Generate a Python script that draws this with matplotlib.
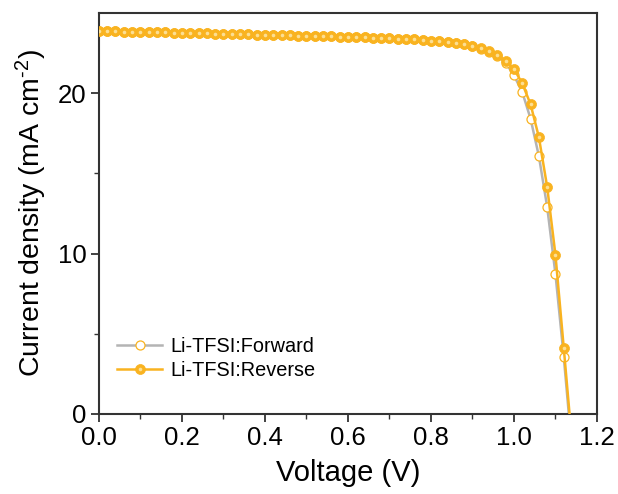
import matplotlib
matplotlib.use("Agg")
import matplotlib.pyplot as plt
from matplotlib.legend_handler import HandlerTuple

plt.rcParams['font.family'] = ['Liberation Sans', 'DejaVu Sans']
plt.rcParams['mathtext.fontset'] = 'custom'
plt.rcParams['mathtext.rm'] = 'Liberation Sans'
plt.rcParams['mathtext.it'] = 'Liberation Sans:italic'

# J-V sweep data (V, mA cm^-2)
voltage = [0.00, 0.02, 0.04, 0.06, 0.08, 0.10, 0.12, 0.14, 0.16, 0.18,
           0.20, 0.22, 0.24, 0.26, 0.28, 0.30, 0.32, 0.34, 0.36, 0.38,
           0.40, 0.42, 0.44, 0.46, 0.48, 0.50, 0.52, 0.54, 0.56, 0.58,
           0.60, 0.62, 0.64, 0.66, 0.68, 0.70, 0.72, 0.74, 0.76, 0.78,
           0.80, 0.82, 0.84, 0.86, 0.88, 0.90, 0.92, 0.94, 0.96, 0.98,
           1.00, 1.02, 1.04, 1.06, 1.08, 1.10, 1.12, 1.14]
j_reverse = [23.86, 23.85, 23.84, 23.83, 23.82, 23.81, 23.80, 23.79, 23.78, 23.77,
             23.76, 23.75, 23.74, 23.72, 23.71, 23.70, 23.69, 23.68, 23.66, 23.65,
             23.64, 23.62, 23.61, 23.60, 23.58, 23.57, 23.56, 23.54, 23.53, 23.51,
             23.50, 23.48, 23.47, 23.45, 23.43, 23.41, 23.39, 23.37, 23.34, 23.31,
             23.27, 23.23, 23.18, 23.12, 23.04, 22.95, 22.82, 22.65, 22.38, 22.00,
             21.50, 20.60, 19.30, 17.25, 14.15, 9.90, 4.10, -1.80]
j_forward = [23.86, 23.85, 23.84, 23.83, 23.82, 23.81, 23.80, 23.79, 23.78, 23.77,
             23.76, 23.75, 23.74, 23.72, 23.71, 23.70, 23.69, 23.68, 23.66, 23.65,
             23.64, 23.62, 23.61, 23.60, 23.58, 23.57, 23.56, 23.54, 23.53, 23.51,
             23.50, 23.48, 23.47, 23.45, 23.43, 23.41, 23.39, 23.37, 23.34, 23.31,
             23.27, 23.23, 23.18, 23.12, 23.03, 22.92, 22.76, 22.55, 22.30, 21.90,
             21.10, 20.06, 18.40, 16.07, 12.90, 8.70, 3.55, -2.30]

orange = '#F9B320'
gray = '#B4B4B4'

fig = plt.figure(figsize=(6.18, 4.94), dpi=100)
ax = fig.add_axes([0.160, 0.162, 0.806, 0.812])

fwd, = ax.plot(voltage, j_forward, color=gray, lw=1.8, marker='o', ms=6.5,
               mfc='white', mec=orange, mew=0.9, zorder=2)
rev, = ax.plot(voltage, j_reverse, color=orange, lw=1.8, marker='o', ms=7.2,
               mfc=orange, mec=orange, mew=0.5, zorder=3)
# glossy highlight on filled markers
hl, = ax.plot(voltage, j_reverse, ls='none', marker='o', ms=2.6,
              mfc='#FCDF94', mec='none', zorder=4)

ax.set_xlim(0, 1.2)
ax.set_ylim(0, 25)
ax.set_xticks([0.0, 0.2, 0.4, 0.6, 0.8, 1.0, 1.2])
ax.set_xticks([0.1, 0.3, 0.5, 0.7, 0.9, 1.1], minor=True)
ax.set_yticks([0, 10, 20])
ax.set_yticks([5, 15], minor=True)
ax.tick_params(which='major', direction='out', length=6, width=1.3,
               color='#333333', labelsize=18.5, pad=3)
ax.tick_params(which='minor', direction='out', length=3.5, width=1.0, color='#333333')
for s in ax.spines.values():
    s.set_color('#333333')
    s.set_linewidth(1.5)

ax.set_xlabel('Voltage (V)', fontsize=21, labelpad=6)
ax.set_ylabel(r'Current density (mA cm$^{\text{-}2}$)', fontsize=20.5, labelpad=6)

ax.legend([fwd, (rev, hl)], ['Li-TFSI:Forward', 'Li-TFSI:Reverse'],
          handler_map={tuple: HandlerTuple(ndivide=1, pad=0)},
          loc='lower left', bbox_to_anchor=(0.0, 0.04), frameon=False,
          fontsize=14.3, handlelength=2.3, handletextpad=0.4, labelspacing=0.25)

fig.savefig('out.png', dpi=100)
